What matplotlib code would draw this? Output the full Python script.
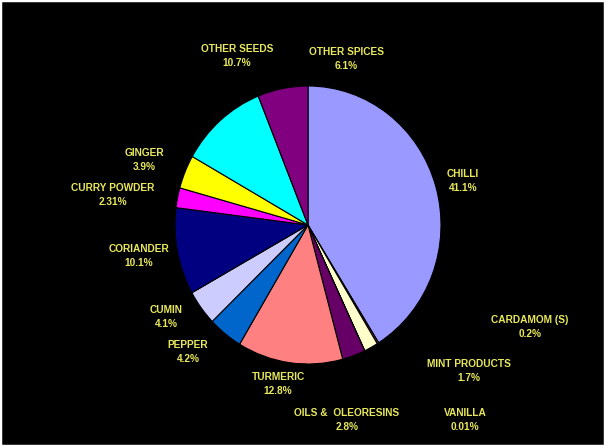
import numpy as np
import matplotlib
matplotlib.use('Agg')
import matplotlib.pyplot as plt
from matplotlib.patches import Rectangle

# share of spice exports, clockwise from 12 o'clock
spices = ['CHILLI', 'CARDAMOM (S)', 'MINT PRODUCTS', 'VANILLA', 'OILS &  OLEORESINS',
          'TURMERIC', 'PEPPER', 'CUMIN', 'CORIANDER', 'CURRY POWDER', 'GINGER',
          'OTHER SEEDS', 'OTHER SPICES']
shares = [41.1, 0.2, 1.7, 0.01, 2.8, 12.8, 4.2, 4.1, 10.1, 2.31, 3.9, 10.7, 6.1]
colors = ['#9999ff', '#993366', '#ffffcc', '#ccffff', '#660066', '#ff8080', '#0066cc',
          '#ccccff', '#000080', '#ff00ff', '#ffff00', '#00ffff', '#800080']

# label centres in pixels (x from left, y from top)
label_xy = [(463, 181), (530, 327), (469, 371), (465, 420), (347, 420),
            (278, 384), (188, 352), (166, 317), (139, 256), (113, 195), (144, 160),
            (237, 56), (346, 59)]

W, H = 605, 446
fig = plt.figure(figsize=(W / 100, H / 100), dpi=100, facecolor='black')

# pie bounding box in pixels, slightly taller than wide
cx, cy, rx, ry = 308, 225, 133, 139
ax = fig.add_axes([(cx - rx) / W, (H - cy - ry) / H, 2 * rx / W, 2 * ry / H])
ax.pie(shares, colors=colors, startangle=90, counterclock=False,
       wedgeprops=dict(edgecolor='black', linewidth=0.8))
ax.set_aspect('auto')
ax.set_xlim(-1, 1)
ax.set_ylim(-1, 1)
ax.axis('off')

for name, val, (x, y) in zip(spices, shares, label_xy):
    fig.text(x / W, 1 - y / H, f'{name}\n{val:g}%', ha='center', va='center',
             color='#e8e85a', fontsize=7.3, fontweight='bold',
             family='Liberation Sans', linespacing=1.45)

# thin white frame round the slide
fig.patches.append(Rectangle((0, 0), 1, 1, transform=fig.transFigure, fill=False,
                             edgecolor='white', linewidth=2.5))

fig.savefig('out.png', dpi=100, facecolor='black')
